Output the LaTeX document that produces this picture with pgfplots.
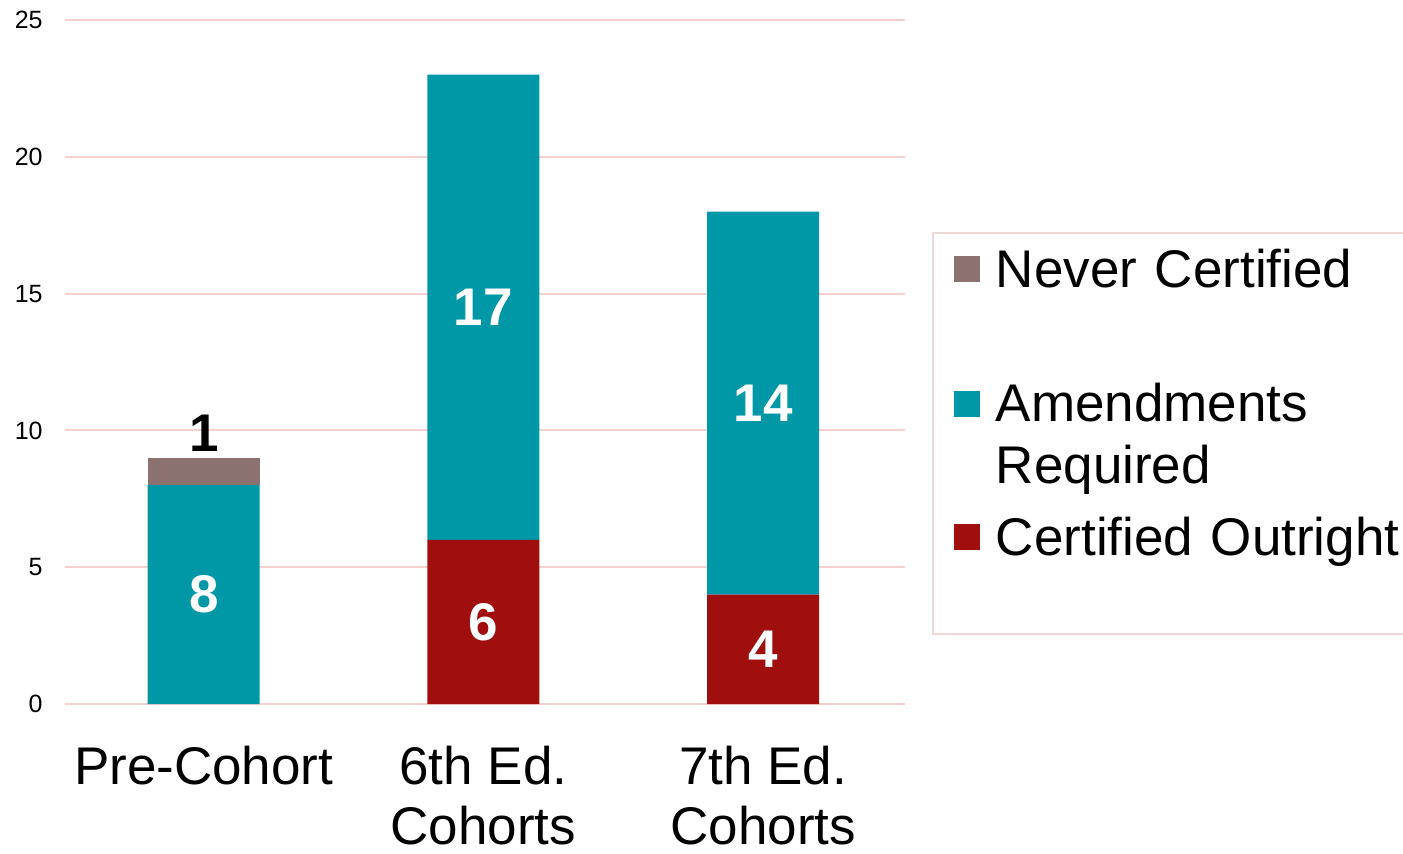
\documentclass[border=0pt]{standalone}
\usepackage{fontspec}
\setmainfont{Liberation Sans}
\usepackage{pgfplots}
\pgfplotsset{compat=1.18}
\definecolor{amendteal}{HTML}{0097A7}
\definecolor{nevergray}{HTML}{8B7170}
\definecolor{certred}{HTML}{A00E0E}
\definecolor{gridpink}{HTML}{F6CFCF}
\definecolor{legendpink}{HTML}{EFD8D8}
\begin{document}
\begin{tikzpicture}
\path[use as bounding box] (-32.5pt,-74.5pt) rectangle (669pt,352pt);
\begin{axis}[
  scale only axis, width=420pt, height=342pt,
  at={(0,0)}, anchor=south west,
  ybar stacked, bar width=56pt,
  xmin=-0.496, xmax=2.507, ymin=0, ymax=25,
  xtick={0,1,2},
  xticklabels={Pre-Cohort,{6th Ed.\\Cohorts},{7th Ed.\\Cohorts}},
  ytick={0,5,10,15,20,25},
  /pgf/number format/assume math mode=true,
  axis line style={draw=none},
  major tick length=0pt,
  ymajorgrids,
  grid style={color=gridpink, line width=1pt},
  xticklabel style={font=\fontsize{26.5}{30}\selectfont, align=center, anchor=north, inner sep=0pt, yshift=-21pt},
  yticklabel style={font=\fontsize{12.5}{14}\selectfont, anchor=east, inner sep=0pt, xshift=-11pt},
  point meta=explicit symbolic,
  nodes near coords={\pgfplotspointmeta},
  legend style={at={(1.032,0.690)}, anchor=north west, draw=legendpink, line width=1pt, fill=white,
    inner xsep=10.5pt, inner ysep=8pt, row sep=0pt, column sep=8pt,
    font=\fontsize{26.5}{31}\selectfont,
    cells={anchor=base west},
    nodes={inner sep=0pt, text width=205pt, align=left, text depth=, text height=}},
  reverse legend,
  legend image code/.code={\fill[#1] (0pt,2.5pt) rectangle (13pt,15.5pt);},
]
\addplot[fill=certred, draw=none,
  every node near coord/.append style={anchor=center, text=white, font=\bfseries\fontsize{26.5}{26.5}\selectfont}]
  coordinates {(0,0) [] (1,6) [6] (2,4) [4]};
\addlegendentry{\rule[-31.5pt]{0pt}{19pt}Certified Outright}
\addplot[fill=amendteal, draw=none,
  every node near coord/.append style={anchor=center, text=white, font=\bfseries\fontsize{26.5}{26.5}\selectfont}]
  coordinates {(0,8) [8] (1,17) [17] (2,14) [14]};
\addlegendentry{\rule{0pt}{19pt}Amendments\\Required\rule[-16.5pt]{0pt}{0pt}}
\addplot[fill=nevergray, draw=none,
  every node near coord/.append style={anchor=south, inner sep=3pt, text=black, font=\bfseries\fontsize{26.5}{26.5}\selectfont, shift={(axis direction cs:0,0.5)}}]
  coordinates {(0,1) [1] (1,0) [] (2,0) []};
\addlegendentry{\rule[-48pt]{0pt}{19pt}Never Certified}
\end{axis}
\end{tikzpicture}
\end{document}
